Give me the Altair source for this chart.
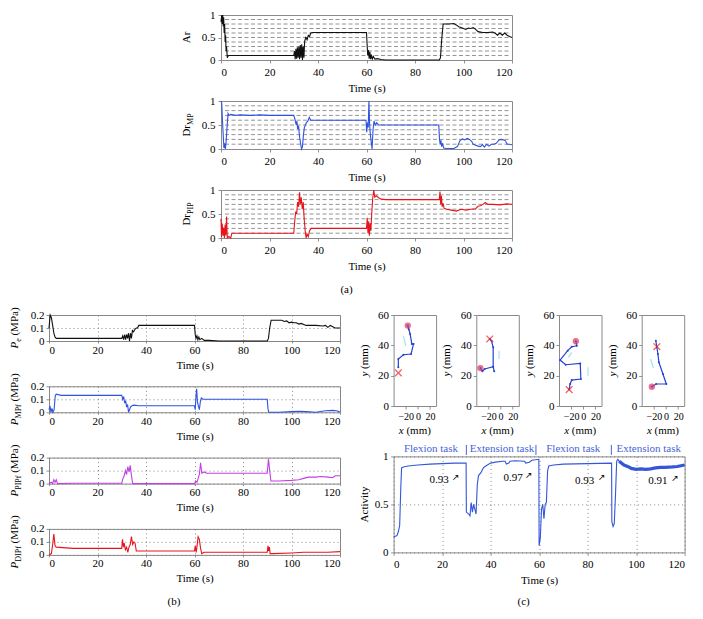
import altair as alt
import pandas as pd

FONT = "Liberation Serif"
BLACK = "#111111"
BLUE = "#2f52e0"
RED = "#e8141c"
PURPLE = "#c23fe6"
ABLUE = "#3556d8"
TASKBLUE = "#4565d6"
CYAN = "#9fe6ee"
GRIDC = "#7a7a7a"
BOXC = "#8a8a8a"

TIME_TICKS = [0, 20, 40, 60, 80, 100, 120]
A_GRID = [0.1, 0.2, 0.3, 0.4, 0.5, 0.6, 0.7, 0.8, 0.9]
A_TICKS = [0, 0.5, 1]
B_TICKS = [0, 0.1, 0.2]
C_TICKS = [0, 0.5, 1]
TRAJ_X_TICKS = [-20, 0, 20]
TRAJ_Y_TICKS = [0, 20, 40, 60]

# ---------------- panel (a) ----------------
ar = [(0, 0.85), (0.3, 1.0), (0.5, 0.8), (0.7, 1.0), (0.9, 0.75), (1.1, 0.95), (1.3, 0.6), (1.5, 0.8),
      (1.7, 0.4), (1.9, 0.55), (2.1, 0.2), (2.3, 0.3), (2.6, 0.05), (3.0, 0.1), (3.5, 0.1), (10, 0.1),
      (20, 0.1), (30, 0.1), (30.3, 0.2), (30.6, 0.02), (30.9, 0.25), (31.2, 0.03), (31.5, 0.28), (31.8, 0.05),
      (32.1, 0.3), (32.4, 0.02), (32.7, 0.33), (33.0, 0.05), (33.3, 0.35), (33.6, 0.0), (33.9, 0.3), (34.2, 0.05),
      (34.5, 0.42), (35.0, 0.5), (35.5, 0.45), (36.0, 0.55), (36.5, 0.52), (37.0, 0.6), (38.0, 0.61), (45, 0.61),
      (50, 0.61), (55, 0.61), (60.0, 0.61), (60.3, 0.3), (60.5, 0.1), (60.8, 0.22), (61.1, 0.03), (61.4, 0.18),
      (61.7, 0.02), (62.0, 0.12), (62.4, 0.02), (62.8, 0.08), (63.5, 0.02), (64.5, 0.03), (66, 0.01), (68, 0.0),
      (75, 0.0), (85, 0.0), (90.0, 0.0), (90.5, 0.05), (91.0, 0.45), (91.6, 0.8), (94, 0.8), (96, 0.81),
      (97, 0.78), (98, 0.74), (99, 0.72), (100, 0.7), (101, 0.68), (102, 0.71), (103, 0.7), (104, 0.72),
      (105, 0.68), (106, 0.63), (107, 0.62), (108, 0.61), (110, 0.61), (112, 0.62), (113, 0.6), (114, 0.55),
      (115, 0.6), (116, 0.55), (117, 0.6), (118, 0.55), (119, 0.52), (120, 0.5)]

dr_mp = [(0, 1.0), (0.3, 0.95), (0.6, 0.6), (0.9, 0.3), (1.2, 0.02), (1.5, 0.12), (1.8, 0.0), (2.1, 0.15),
         (2.5, 0.45), (2.9, 0.74), (3.3, 0.7), (4, 0.72), (6, 0.7), (8, 0.71), (12, 0.7), (16, 0.71), (20, 0.7),
         (25, 0.7), (30, 0.7), (30.5, 0.62), (31, 0.5), (31.3, 0.58), (31.6, 0.42), (32, 0.48), (32.4, 0.25),
         (32.8, 0.12), (33.2, 0.0), (33.6, 0.05), (34, 0.3), (34.4, 0.45), (34.8, 0.5), (35.2, 0.55), (35.8, 0.58),
         (36.4, 0.66), (37, 0.6), (40, 0.6), (50, 0.6), (59.8, 0.6), (60.1, 0.35), (60.4, 0.55), (60.7, 0.45),
         (61, 1.0), (61.3, 0.5), (61.6, 0.3), (62, 0.12), (62.3, 0.0), (62.7, 0.4), (63.1, 0.58), (63.6, 0.5),
         (64.2, 0.55), (65, 0.5), (70, 0.5), (80, 0.5), (89.8, 0.5), (90.1, 0.2), (90.4, 0.1), (90.7, 0.18),
         (91, 0.05), (91.4, 0.12), (91.8, 0.02), (93, 0.01), (96, 0.01), (97.5, 0.05), (98.5, 0.17), (99.5, 0.21),
         (100.5, 0.19), (101.5, 0.22), (102.5, 0.2), (103.5, 0.15), (104, 0.1), (105, 0.08), (106, 0.06),
         (107, 0.05), (107.8, 0.09), (108.6, 0.04), (109.5, 0.1), (110.5, 0.06), (111.5, 0.1), (112.5, 0.1),
         (113.5, 0.12), (114.5, 0.18), (115.5, 0.2), (116.5, 0.19), (117.3, 0.17), (118, 0.1), (119, 0.1),
         (120, 0.09)]

dr_pip = [(0, 0.4), (0.2, 0.02), (0.5, 0.3), (0.8, 0.05), (1.1, 0.22), (1.4, 0.0), (1.7, 0.28), (2.0, 0.05),
          (2.3, 0.45), (2.6, 0.0), (3.2, 0.03), (4, 0.0), (4.5, 0.1), (10, 0.1), (20, 0.1), (30, 0.1),
          (30.4, 0.35), (30.8, 0.55), (31.2, 0.5), (31.6, 0.75), (32, 0.65), (32.4, 0.95), (32.7, 0.7),
          (33.1, 0.85), (33.5, 0.6), (33.9, 0.75), (34.3, 0.4), (34.7, 0.15), (35.1, 0.0), (35.5, 0.08),
          (36, 0.03), (36.5, 0.15), (37.2, 0.2), (45, 0.2), (55, 0.2), (60, 0.2), (60.3, 0.42), (60.6, 0.1),
          (60.9, 0.35), (61.2, 0.05), (61.5, 0.3), (61.8, 0.15), (62.2, 0.55), (62.6, 0.85), (63, 1.0),
          (63.4, 0.85), (64, 0.88), (65, 0.84), (66, 0.81), (68, 0.8), (75, 0.8), (85, 0.8), (90, 0.8),
          (90.3, 0.97), (90.6, 0.7), (90.9, 0.88), (91.2, 0.65), (91.6, 0.72), (92, 0.62), (93, 0.6),
          (95, 0.58), (97, 0.56), (99, 0.6), (101, 0.58), (103, 0.6), (105, 0.61), (106, 0.66), (107, 0.67),
          (108, 0.7), (109, 0.74), (110, 0.7), (112, 0.7), (115, 0.69), (118, 0.71), (120, 0.7)]

# ---------------- panel (b) ----------------
p_e = [(0, 0.1), (0.5, 0.2), (1, 0.18), (1.5, 0.12), (2, 0.06), (2.5, 0.03), (3, 0.02), (10, 0.02), (20, 0.02),
       (30, 0.02), (30.4, 0.04), (30.8, 0.01), (31.2, 0.05), (31.6, 0.01), (32, 0.05), (32.4, 0.02), (32.8, 0.06),
       (33.2, 0.0), (33.6, 0.06), (34, 0.02), (34.4, 0.08), (34.9, 0.07), (35.4, 0.09), (36, 0.1), (36.5, 0.1),
       (37, 0.12), (45, 0.12), (55, 0.12), (60, 0.12), (60.3, 0.05), (60.6, 0.02), (61, 0.04), (61.4, 0.01),
       (61.8, 0.03), (62.2, 0.01), (63, 0.02), (64, 0.005), (66, 0.005), (70, 0.0), (80, 0.0), (90, 0.0),
       (90.5, 0.02), (91, 0.1), (91.6, 0.16), (96, 0.16), (97, 0.15), (98, 0.155), (99, 0.14), (100, 0.145),
       (101, 0.14), (102, 0.14), (103, 0.13), (104, 0.135), (106, 0.12), (110, 0.12), (113, 0.115), (114, 0.12),
       (115, 0.105), (116, 0.12), (117, 0.11), (118, 0.1), (120, 0.1)]

p_mpf = [(0, 0.02), (0.4, 0.05), (0.8, 0.0), (1.2, 0.03), (1.6, 0.0), (2.1, 0.02), (2.6, 0.13), (3, 0.14),
         (5, 0.13), (10, 0.13), (20, 0.13), (30, 0.13), (30.4, 0.1), (30.8, 0.12), (31.2, 0.07), (31.6, 0.09),
         (32, 0.04), (32.4, 0.06), (32.8, 0.0), (33.2, 0.02), (33.6, 0.04), (34.2, 0.05), (35, 0.055), (37, 0.05),
         (45, 0.05), (55, 0.05), (60, 0.05), (60.3, 0.02), (60.6, 0.12), (60.9, 0.18), (61.2, 0.08), (61.6, 0.05),
         (62, 0.02), (62.4, 0.08), (62.8, 0.11), (63.5, 0.1), (70, 0.1), (80, 0.1), (90, 0.1), (90.3, 0.03),
         (90.6, 0.0), (95, 0.0), (100, 0.005), (103, 0.008), (106, 0.005), (110, 0.0), (114, 0.012),
         (117, 0.015), (119, 0.01), (120, 0.0)]

p_pipf = [(0, 0.0), (1, 0.01), (1.5, 0.0), (2, 0.03), (2.5, 0.01), (3, 0.03), (3.5, 0.0), (10, 0.003),
          (20, 0.003), (30, 0.003), (30.5, 0.04), (31, 0.06), (31.5, 0.1), (32, 0.07), (32.5, 0.13), (33, 0.09),
          (33.5, 0.14), (34, 0.06), (34.5, 0.0), (40, 0.0), (50, 0.0), (60, 0.0), (60.5, 0.02), (61, 0.01),
          (61.5, 0.04), (62, 0.07), (62.5, 0.16), (63, 0.08), (64, 0.09), (65, 0.08), (75, 0.08), (85, 0.08),
          (90, 0.08), (90.5, 0.19), (91, 0.1), (91.5, 0.02), (95, 0.02), (100, 0.025), (103, 0.03), (105, 0.04),
          (107, 0.05), (110, 0.05), (112, 0.055), (115, 0.05), (117, 0.045), (118, 0.06), (120, 0.06)]

p_dipf = [(0, 0.0), (1, 0.01), (1.5, 0.08), (2, 0.16), (2.5, 0.07), (3, 0.06), (10, 0.05), (20, 0.05),
          (30, 0.05), (30.3, 0.12), (30.7, 0.06), (31, 0.09), (31.5, 0.04), (32, 0.06), (32.5, 0.02), (33, 0.06),
          (33.5, 0.08), (34, 0.14), (34.5, 0.08), (35, 0.1), (35.5, 0.09), (36, 0.03), (45, 0.03), (55, 0.03),
          (60, 0.03), (60.3, 0.07), (60.7, 0.02), (61, 0.06), (61.5, 0.14), (62, 0.12), (62.5, 0.05), (63, 0.01),
          (64, 0.02), (75, 0.02), (85, 0.02), (90, 0.02), (90.3, 0.07), (90.6, 0.03), (90.9, 0.06), (91.2, 0.01),
          (92, 0.01), (100, 0.015), (105, 0.02), (110, 0.02), (115, 0.02), (120, 0.025)]

# ---------------- panel (c) ----------------
activity = [(0, 0.16), (1, 0.17), (1.5, 0.18), (2, 0.22), (2.5, 0.28), (3, 0.7), (3.3, 0.88), (4, 0.89),
            (6, 0.9), (10, 0.91), (15, 0.92), (20, 0.925), (25, 0.93), (29.9, 0.93), (30, 0.42), (31, 0.4),
            (31.5, 0.38), (32, 0.52), (32.5, 0.42), (33, 0.5), (33.5, 0.45), (34, 0.4), (34.5, 0.7), (35, 0.8),
            (36, 0.83), (37, 0.88), (38, 0.9), (40, 0.93), (42, 0.94), (45, 0.95), (46, 0.95), (46.5, 0.92),
            (47.5, 0.93), (48, 0.95), (50, 0.955), (54, 0.95), (54.5, 0.93), (56, 0.94), (57, 0.96), (59.9, 0.97),
            (60, 0.07), (60.5, 0.15), (61, 0.45), (61.5, 0.5), (62, 0.35), (62.5, 0.5), (63, 0.52), (63.5, 0.85),
            (64, 0.9), (66, 0.91), (70, 0.92), (80, 0.925), (89.9, 0.93), (90, 0.32), (90.5, 0.27), (91, 0.3),
            (91.5, 0.6), (92, 0.95), (92.5, 0.97), (93, 0.95), (95, 0.91), (97, 0.89), (98, 0.875), (99, 0.87),
            (100, 0.865), (102, 0.87), (104, 0.865), (106, 0.87), (108, 0.88), (110, 0.885), (112, 0.885),
            (115, 0.89), (117, 0.895), (118, 0.9), (119, 0.905), (120, 0.91)]
band_start = 93

ann_t = [18.8, 49.3, 78.8, 109.0]
ann_v = [0.75, 0.77, 0.74, 0.74]
ann_txt = ["0.93", "0.97", "0.93", "0.91"]
arrow_t = [25.6, 55.7, 85.8, 116.0]
arrow_v = [0.79, 0.81, 0.79, 0.78]

task_t = [15.4, 44.7, 74.1, 105.2]
task_txt = ["Flexion task", "Extension task", "Flexion task", "Extension task"]
sep_t = [30, 58.7, 89.8]

# trajectories (x mm, y mm)
traj1 = [(-16.7, 53), (-15, 50.6), (-12.8, 47.5), (-10, 40.9), (-7.2, 40.9), (-11.2, 34.3), (-23.8, 33.8),
         (-32.2, 31), (-32.2, 25.5)]
traj2 = [(-33.3, 25), (-30, 22.9), (-26.2, 24.4), (-12.2, 25.9), (-10.5, 22.9), (-12.2, 25.9), (-12.2, 38.7),
         (-15, 43), (-17.8, 44.2)]
traj3 = [(-12.3, 42.7), (-10.7, 39.7), (-19, 39.1), (-25.7, 36.5), (-38.3, 30.3), (-29, 27.2), (-5, 28.1),
         (-4, 17.8), (-19, 17.1), (-21.7, 14.5), (-23.3, 10.8)]
traj4 = [(-23.3, 12.7), (-16.2, 14.5), (0.5, 14.5), (-5, 21.1), (-11.7, 28.8), (-13.3, 34.3), (-15, 38.7),
         (-16.7, 43)]
circles = [(-16.7, 53), (-33.3, 25), (-12.3, 42.7), (-23.3, 12.7)]
crosses = [(-32.2, 21.8), (-17.8, 44.2), (-23.3, 10.8), (-15, 39.1)]
arrows = [[((-23.8, 46.3), (-20, 39.7))],
          [((-2.5, 31), (-2.5, 36.5))],
          [((-19, 35.4), (-24.5, 32.1)), ((7.8, 25.5), (7.8, 20))],
          [((-25.5, 31), (-20.5, 25))]]

# ---------------- helpers ----------------
WR = {' ': 250, '(': 333, ')': 333, 'M': 889, 'P': 556, 'a': 444, 's': 389, 'e': 444, 'r': 333, 'D': 722,
      'I': 333, 'f': 333, 'y': 500, 'x': 500, 'm': 778, 'A': 722, 'c': 444, 't': 278, 'i': 278, 'v': 500}
WI = {'P': 611, 'x': 444, 'y': 444}
ONE = pd.DataFrame({"k": [0]})


def tw(s, size, italic):
    tot = 0
    for ch in s:
        tot += WI.get(ch, WR.get(ch, 500)) if italic else WR.get(ch, 500)
    return tot * size / 1000.0


def rich_text(pieces, x0, y0, vertical, color="black"):
    total = sum(tw(p[0], p[1], p[2]) for p in pieces)
    layers = []
    cum = 0.0
    for text, size, italic, shift in pieces:
        lead = len(text) - len(text.lstrip(" "))
        cum += tw(" " * lead, size, italic)
        body = text.lstrip(" ")
        if vertical:
            x, y, ang = x0 + shift, y0 + total / 2 - cum, 270
        else:
            x, y, ang = x0 - total / 2 + cum, y0 + shift, 0
        layers.append(alt.Chart(ONE).mark_text(
            text=body, font=FONT, fontSize=size, fontStyle="italic" if italic else "normal",
            align="left", baseline="alphabetic", angle=ang, color=color
        ).encode(x=alt.value(x), y=alt.value(y)))
        cum += tw(body, size, italic)
    return layers


def label(text, x, y):
    return alt.Chart(ONE).mark_text(text=text, font=FONT, fontSize=11, align="center",
                                    baseline="middle", color="black").encode(x=alt.value(x), y=alt.value(y))


AXF = dict(labelFont=FONT, titleFont=FONT, titleFontWeight="normal", labelColor="black", titleColor="black",
           domain=False, tickColor="#777", tickWidth=0.8, format="~f", titleFontSize=11)

W = 291


def time_x(tick, pad, tpad, grid):
    ax = dict(values=TIME_TICKS, title="Time (s)", tickSize=tick, labelPadding=pad, titlePadding=tpad,
              grid=grid, labelFontSize=11, **AXF)
    if grid:
        ax.update(gridDash=[1, 3], gridColor=GRIDC, gridWidth=0.9)
    return alt.X("t:Q", scale=alt.Scale(domain=[0, 120], nice=False, zero=False), axis=alt.Axis(**ax))


def a_chart(series, color, pieces, h, extra=None):
    df = pd.DataFrame(series, columns=["t", "v"])
    yenc = alt.Y("v:Q", scale=alt.Scale(domain=[0, 1], nice=False),
                 axis=alt.Axis(values=A_TICKS, title=None, tickSize=3, labelPadding=3, grid=False,
                               labelFontSize=11, **AXF))
    grid = alt.Chart(pd.DataFrame({"v": A_GRID})).mark_rule(
        color=GRIDC, strokeDash=[4, 2.5], strokeWidth=0.8).encode(y=yenc, x=alt.value(4), x2=alt.value(W - 3))
    line = alt.Chart(df).mark_line(color=color, strokeWidth=1.1).encode(
        x=time_x(3, 3, 5, False), y=yenc)
    layers = [grid, line] + rich_text(pieces, -31, h / 2, True)
    if extra is not None:
        layers += extra
    return alt.layer(*layers).properties(width=W, height=h)


def b_chart(series, color, pieces, extra=None):
    h = 26
    df = pd.DataFrame(series, columns=["t", "v"])
    yenc = alt.Y("v:Q", scale=alt.Scale(domain=[0, 0.2], nice=False),
                 axis=alt.Axis(values=B_TICKS, title=None, tickSize=3, labelPadding=2, grid=True,
                               gridDash=[1, 3], gridColor=GRIDC, gridWidth=0.9, labelFontSize=11, **AXF))
    line = alt.Chart(df).mark_line(color=color, strokeWidth=1.1).encode(x=time_x(2, 1, 4, True), y=yenc)
    layers = [line] + rich_text(pieces, -31, h / 2, True)
    if extra is not None:
        layers += extra
    return alt.layer(*layers).properties(width=W, height=h)


TW, TH = 42.5, 91


def traj_chart(path, circ, cross, arrs):
    df = pd.DataFrame(path, columns=["x", "y"])
    df["i"] = range(len(df))
    xenc = alt.X("x:Q", scale=alt.Scale(domain=[-40, 30], nice=False, zero=False),
                 axis=alt.Axis(values=TRAJ_X_TICKS, title=None, tickSize=3, labelPadding=2, grid=False,
                               labelFontSize=10, labelOverlap=False, **AXF))
    yenc = alt.Y("y:Q", scale=alt.Scale(domain=[0, 60], nice=False),
                 axis=alt.Axis(values=TRAJ_Y_TICKS, title=None, tickSize=3, labelPadding=2, grid=False,
                               labelFontSize=11, **AXF))
    rows = []
    for k, (p0, p1) in enumerate(arrs):
        rows.append({"x": p0[0], "y": p0[1], "s": k, "o": 0})
        rows.append({"x": p1[0], "y": p1[1], "s": k, "o": 1})
    adf = pd.DataFrame(rows)
    arr = alt.Chart(adf).mark_line(color=CYAN, strokeWidth=1.2).encode(
        x=xenc, y=yenc, detail="s:N", order="o:Q")
    line = alt.Chart(df).mark_line(color="#2442d4", strokeWidth=1.2, point=alt.OverlayMarkDef(
        size=4, color="#2442d4")).encode(x=xenc, y=yenc, order="i:Q")
    cdf = pd.DataFrame([circ], columns=["x", "y"])
    xdf = pd.DataFrame([cross], columns=["x", "y"])
    cm = alt.Chart(cdf).mark_point(shape="circle", size=26, filled=True, color="#c2418c", stroke="#f0304a",
                                   strokeWidth=1.2).encode(x=xenc, y=yenc)
    xm = alt.Chart(xdf).mark_point(shape="M-1,-1L1,1M-1,1L1,-1", size=45, color="#f02020",
                                   strokeWidth=1.3, filled=False).encode(x=xenc, y=yenc)
    layers = [arr, line, cm, xm]
    layers += rich_text([("y", 11, True, 0), (" (mm)", 11, False, 0)], -26, TH / 2, True)
    layers += rich_text([("x", 11, True, 0), (" (mm)", 11, False, 0)], TW / 2, TH + 28, False)
    return alt.layer(*layers).properties(width=TW, height=TH)


# ---------------- build panels ----------------
a1 = a_chart(ar, BLACK, [("Ar", 11, False, 0)], 45)
a2 = a_chart(dr_mp, BLUE, [("Dr", 11, False, 0), ("MP", 8, False, 2.5)], 48)
a3 = a_chart(dr_pip, RED, [("Dr", 11, False, 0), ("PIP", 8, False, 2.5)], 48,
             extra=[label("(a)", 125.5, 100)])

spacer = alt.Chart(ONE).mark_point(opacity=0, size=0).encode(x=alt.value(0.5), y=alt.value(0.5)).properties(
    width=1, height=1, view=alt.ViewBackground(stroke="transparent"))

panel_a = alt.vconcat(a1, a2, a3, spacing=41, bounds="flush")
row_a = alt.hconcat(spacer, panel_a, spacing=129)

b1 = b_chart(p_e, BLACK, [("P", 11, True, 0), ("e", 8, False, 2.5), (" (MPa)", 11, False, 0)])
b2 = b_chart(p_mpf, BLUE, [("P", 11, True, 0), ("MPf", 8, False, 2.5), (" (MPa)", 11, False, 0)])
b3 = b_chart(p_pipf, PURPLE, [("P", 11, True, 0), ("PIPf", 8, False, 2.5), (" (MPa)", 11, False, 0)])
b4 = b_chart(p_dipf, RED, [("P", 11, True, 0), ("DIPf", 8, False, 2.5), (" (MPa)", 11, False, 0)],
             extra=[label("(b)", 125, 73)])
panel_b = alt.vconcat(b1, b2, b3, b4, spacing=45.3, bounds="flush")

trajs = [traj1, traj2, traj3, traj4]
t_charts = [traj_chart(trajs[k], circles[k], crosses[k], arrows[k]) for k in range(4)]
traj_row = alt.hconcat(*t_charts, spacing=39.7, bounds="flush")

act_df = pd.DataFrame(activity, columns=["t", "v"])
band_df = act_df[act_df["t"] >= band_start]
cy = alt.Y("v:Q", scale=alt.Scale(domain=[0, 1], nice=False),
           axis=alt.Axis(values=C_TICKS, title=None, tickSize=3, labelPadding=2.5, grid=True,
                         gridDash=[1, 3], gridColor=GRIDC, gridWidth=0.9, labelFontSize=11, **AXF))
cx = time_x(3, 2.6, 5.5, True)
act_line = alt.Chart(act_df).mark_line(color=ABLUE, strokeWidth=1.1).encode(x=cx, y=cy)
act_band = alt.Chart(band_df).mark_line(color=ABLUE, strokeWidth=3.2).encode(x=cx, y=cy)
ann_df = pd.DataFrame({"t": ann_t, "v": ann_v, "txt": ann_txt})
arr_df = pd.DataFrame({"t": arrow_t, "v": arrow_v})
ann = alt.Chart(ann_df).mark_text(font=FONT, fontSize=11, color="black").encode(x=cx, y=cy, text="txt:N")
arr_txt = alt.Chart(arr_df).mark_text(text="\u2197", font="DejaVu Sans", fontSize=9, color="black").encode(x=cx, y=cy)
task_df = pd.DataFrame({"t": task_t, "txt": task_txt})
tasks = alt.Chart(task_df).mark_text(font=FONT, fontSize=11, color=TASKBLUE, baseline="middle").encode(
    x=cx, y=alt.value(-7.5), text="txt:N")
sep_df = pd.DataFrame({"t": sep_t})
seps = alt.Chart(sep_df).mark_rule(color=TASKBLUE, strokeWidth=1).encode(
    x=cx, y=alt.value(-11.5), y2=alt.value(-1.5))
act_layers = [act_line, act_band, ann, arr_txt, tasks, seps]
act_layers += rich_text([("Activity", 11, False, 0)], -26, 48, True)
act_layers += [label("(c)", 130, 50 + 96)]
act = alt.layer(*act_layers).properties(width=W, height=96)

panel_c = alt.vconcat(traj_row, act, spacing=5.4)
row_bc = alt.hconcat(panel_b, panel_c, spacing=14.6)

chart = alt.vconcat(row_a, row_bc, spacing=10).properties(
    padding={"left": 0, "top": 0, "right": 2, "bottom": 2}
).configure(font=FONT).configure_view(stroke=BOXC, strokeWidth=1).configure_axis(
    labelFont=FONT, titleFont=FONT, labelFontSize=11, titleFontSize=11, titleFontWeight="normal",
    labelColor="black", titleColor="black", domain=False, tickColor="#777", tickWidth=0.8
).configure_text(font=FONT)

chart.save("out.html", embed_options={"renderer": "svg", "actions": False})
